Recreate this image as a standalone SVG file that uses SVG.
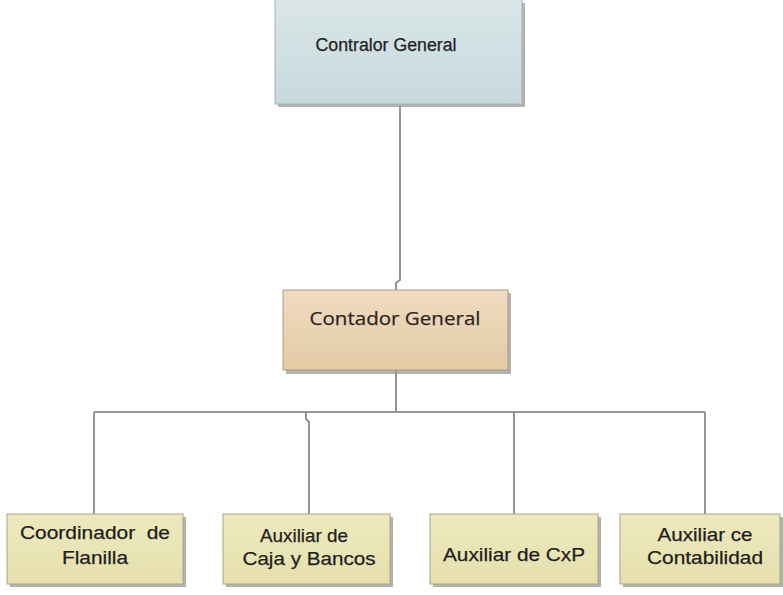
<svg xmlns="http://www.w3.org/2000/svg" width="783" height="595" viewBox="0 0 783 595">
<style>
.t{font-family:"Liberation Sans",Arial,sans-serif;fill:#1e1e1e;text-anchor:middle;white-space:pre;stroke:#1e1e1e;stroke-width:0.25}
.c{font-family:"Open Sans","Noto Sans",sans-serif;fill:#2e261e;text-anchor:middle;stroke:#2e261e;stroke-width:0.25}
.sh{fill:#9a9a92;opacity:0.75}
.ln{stroke:#969690;stroke-width:2;fill:none}
</style>
<defs>
<linearGradient id="gBlue" x1="0" y1="0" x2="0" y2="1"><stop offset="0" stop-color="#dbe6e7"/><stop offset="1" stop-color="#c6d9de"/></linearGradient>
<linearGradient id="gTan" x1="0" y1="0" x2="0" y2="1"><stop offset="0" stop-color="#efdcbf"/><stop offset="1" stop-color="#e3cba5"/></linearGradient>
<linearGradient id="gYel" x1="0" y1="0" x2="0" y2="1"><stop offset="0" stop-color="#eee9bd"/><stop offset="1" stop-color="#e6e0ae"/></linearGradient>
</defs>
<rect width="783" height="595" fill="#ffffff"/>
<g id="connectors">
<path class="ln" d="M400,105 V280 L396,283 V290"/>
<path class="ln" d="M396,370 V412"/>
<path class="ln" d="M94,412 H705"/>
<path class="ln" d="M94,412 V514"/>
<path class="ln" d="M306,412 V419 L309,422 V514"/>
<path class="ln" d="M514,412 V514"/>
<path class="ln" d="M705,412 V514"/>
</g>
<g id="contralor">
<rect class="sh" x="278" y="3" width="247" height="104"/>
<rect x="275" y="-2" width="247" height="106" fill="url(#gBlue)" stroke="#a3b2b4" stroke-width="1"/>
<text class="t" x="386" y="51" font-size="18" textLength="141" lengthAdjust="spacingAndGlyphs">Contralor General</text>
</g>
<g id="contador">
<rect class="sh" x="286" y="293" width="225" height="81"/>
<rect x="283" y="290" width="225" height="80" fill="url(#gTan)" stroke="#a89c8a" stroke-width="1"/>
<text class="c" x="395" y="325" font-size="19" textLength="171" lengthAdjust="spacingAndGlyphs">Contador General</text>
</g>
<g id="coordinador">
<rect class="sh" x="10" y="517" width="176" height="70"/>
<rect x="7" y="514" width="176" height="70" fill="url(#gYel)" stroke="#a8a48a" stroke-width="1"/>
<text class="t" x="95" y="539" font-size="19" textLength="150" lengthAdjust="spacingAndGlyphs">Coordinador  de</text>
<text class="t" x="95" y="564" font-size="19" textLength="66" lengthAdjust="spacingAndGlyphs">Flanilla</text>
</g>
<g id="aux-caja">
<rect class="sh" x="226" y="517" width="167" height="70"/>
<rect x="223" y="514" width="167" height="70" fill="url(#gYel)" stroke="#a8a48a" stroke-width="1"/>
<text class="t" x="304" y="542" font-size="19" textLength="88" lengthAdjust="spacingAndGlyphs">Auxiliar de</text>
<text class="t" x="309" y="565" font-size="19" textLength="133" lengthAdjust="spacingAndGlyphs">Caja y Bancos</text>
</g>
<g id="aux-cxp">
<rect class="sh" x="433" y="517" width="168" height="70"/>
<rect x="430" y="514" width="168" height="70" fill="url(#gYel)" stroke="#a8a48a" stroke-width="1"/>
<text class="t" x="514" y="561" font-size="19" textLength="142" lengthAdjust="spacingAndGlyphs">Auxiliar de CxP</text>
</g>
<g id="aux-contabilidad">
<rect class="sh" x="623" y="517" width="160" height="70"/>
<rect x="620" y="514" width="160" height="70" fill="url(#gYel)" stroke="#a8a48a" stroke-width="1"/>
<text class="t" x="705" y="541" font-size="19" textLength="95" lengthAdjust="spacingAndGlyphs">Auxiliar ce</text>
<text class="t" x="705" y="564" font-size="19" textLength="116" lengthAdjust="spacingAndGlyphs">Contabilidad</text>
</g>
</svg>
